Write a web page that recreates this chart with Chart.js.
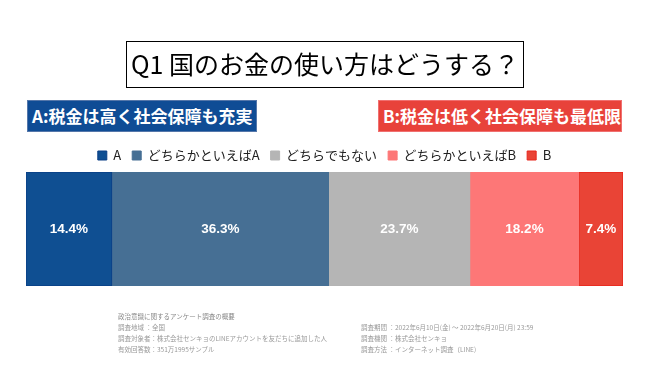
<!DOCTYPE html>
<html>
<head>
<meta charset="utf-8">
<script src="https://cdn.jsdelivr.net/npm/chart.js@4.4.0/dist/chart.umd.min.js"></script>
<style>
  body { margin: 0; background: #fff; font-family: "Noto Sans CJK JP", sans-serif; }
  #wrap { position: relative; width: 650px; height: 366px; overflow: hidden; }
  #myChart { position: absolute; left: 0; top: 0; }
  .title {
    position: absolute; left: 126px; top: 41px; width: 398px; height: 47px;
    border: 1.5px solid #000; box-sizing: border-box;
    font-size: 25px; line-height: 43px; text-align: center; color: #000;
  }
  .tag {
    position: absolute; top: 100px; height: 32px; box-sizing: border-box;
    color: #fff; font-weight: bold; font-size: 17px; line-height: 30px;
    padding-left: 4px; white-space: nowrap;
  }
  .tagA { left: 27px; width: 230px; background: #0f4c95; border: 1px solid #5577aa; }
  .tagB { left: 378px; width: 244px; background: #e8423a; border: 1px solid #f07070; }
  .note { position: absolute; font-size: 6.5px; color: #999; line-height: 11px; white-space: nowrap; }
</style>
</head>
<body>
<div id="wrap">
  <canvas id="myChart" width="650" height="366"></canvas>
  <div class="title">Q1 国のお金の使い方はどうする？</div>
  <div class="tag tagA">A:税金は高く社会保障も充実</div>
  <div class="tag tagB">B:税金は低く社会保障も最低限</div>
  <div class="note" style="left:118px; top:311px;">
    <span style="color:#888">政治意識に関するアンケート調査の概要</span><br>
    調査地域 ：全国<br>
    調査対象者：株式会社センキョのLINEアカウントを友だちに追加した人<br>
    有効回答数：351万1995サンプル
  </div>
  <div class="note" style="left:361px; top:322px;">
    調査期間 ：2022年6月10日(金) 〜 2022年6月20日(月) 23:59<br>
    調査機関 ：株式会社センキョ<br>
    調査方法 ：インターネット調査（LINE)
  </div>
</div>
<script>
const ctx = document.getElementById('myChart').getContext('2d');

const categories = ['Q1'];
const seriesNames = ['A', 'どちらかといえばA', 'どちらでもない', 'どちらかといえばB', 'B'];
const seriesValues = [14.4, 36.3, 23.7, 18.2, 7.4];
const seriesColors = ['#0f4f92', '#466f94', '#b5b5b5', '#fd7777', '#e94436'];
const seriesBorders = ['#0a3f86', '#466f94', '#b5b5b5', '#fd7777', '#e8261c'];

const datasets = seriesNames.map((name, i) => ({
    label: name,
    data: [seriesValues[i]],
    backgroundColor: seriesColors[i],
    borderColor: seriesBorders[i],
    borderWidth: 1,
    borderSkipped: false,
    categoryPercentage: 1,
    barPercentage: 1
}));

// white value labels in the middle of each segment
const valueLabels = {
    id: 'valueLabels',
    afterDatasetsDraw(chart) {
        const c = chart.ctx;
        c.save();
        c.fillStyle = '#fff';
        c.font = 'bold 13.5px "Liberation Sans", Arial, sans-serif';
        c.textAlign = 'center';
        c.textBaseline = 'middle';
        chart.data.datasets.forEach((ds, i) => {
            const bar = chart.getDatasetMeta(i).data[0];
            const x = (bar.x + bar.base) / 2;
            c.fillText(ds.data[0].toFixed(1) + '%', x, bar.y);
        });
        c.restore();
    }
};

const myChart = new Chart(ctx, {
    type: 'bar',
    data: { labels: categories, datasets: datasets },
    options: {
        responsive: false,
        animation: false,
        indexAxis: 'y',
        layout: { padding: { left: 26, right: 27, top: 138, bottom: 80 } },
        scales: {
            x: { stacked: true, display: false, min: 0, max: 100 },
            y: { stacked: true, display: false }
        },
        plugins: {
            legend: {
                display: true,
                position: 'top',
                labels: {
                    boxWidth: 9,
                    boxHeight: 9,
                    padding: 11,
                    color: '#222',
                    font: { size: 13, family: '"Noto Sans CJK JP", sans-serif' }
                }
            },
            tooltip: { enabled: false }
        }
    },
    plugins: [valueLabels]
});
</script>
</body>
</html>
